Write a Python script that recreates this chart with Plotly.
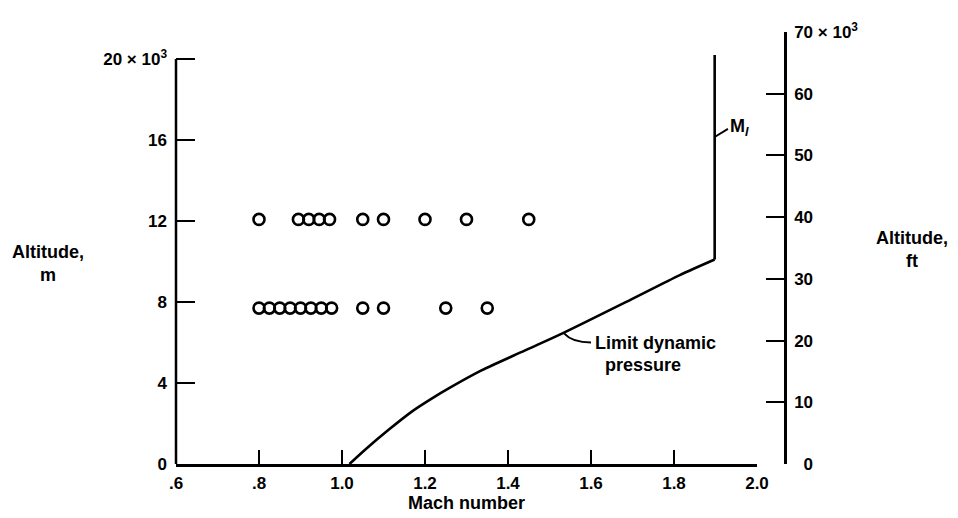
import plotly.graph_objects as go

# ---- data ----
upper_mach = [0.8, 0.895, 0.92, 0.945, 0.97, 1.05, 1.1, 1.2, 1.3, 1.45]
upper_alt_km = 12.08
lower_mach = [0.8, 0.825, 0.85, 0.875, 0.9, 0.925, 0.95, 0.975, 1.05, 1.1, 1.25, 1.35]
lower_alt_km = 7.7

# limit dynamic pressure boundary
limit_mach = [1.018, 1.057, 1.113, 1.169, 1.217, 1.257, 1.336, 1.44, 1.535, 1.695, 1.814, 1.898]
limit_alt_km = [0.0, 0.73, 1.70, 2.60, 3.24, 3.73, 4.62, 5.60, 6.49, 8.11, 9.33, 10.1]
# M_l boundary (vertical)
ml_mach = [1.898, 1.898]
ml_alt_km = [10.1, 20.2]

x_ticks = [0.6, 0.8, 1.0, 1.2, 1.4, 1.6, 1.8, 2.0]
x_ticktext = [".6", ".8", "1.0", "1.2", "1.4", "1.6", "1.8", "2.0"]
y_m_ticks = [0, 4, 8, 12, 16, 20]
y_m_ticktext = ["0", "4", "8", "12", "16", "20 \u00d7 10<sup>3</sup>"]
y_ft_ticks = [0, 10, 20, 30, 40, 50, 60, 70]
y_ft_ticktext = ["\u20070", "10", "20", "30", "40", "50", "60", "70 \u00d7 10<sup>3</sup>"]

FT_PER_KM = 1000 / 0.3048 / 1000  # thousands of ft per km
y_top_ft = 70
y_top_km = y_top_ft / FT_PER_KM

FONT = "Liberation Sans"
fs_tick = 17
fs_text = 18
black = "#000000"

fig = go.Figure()

marker_style = dict(symbol="circle-open", size=11, color=black, line=dict(width=2.6, color=black))
fig.add_trace(go.Scatter(
    x=upper_mach, y=[upper_alt_km] * len(upper_mach), mode="markers",
    marker=marker_style, showlegend=False, hoverinfo="skip"))
fig.add_trace(go.Scatter(
    x=lower_mach, y=[lower_alt_km] * len(lower_mach), mode="markers",
    marker=marker_style, showlegend=False, hoverinfo="skip"))
fig.add_trace(go.Scatter(
    x=limit_mach, y=limit_alt_km, mode="lines",
    line=dict(color=black, width=2.6, shape="spline", smoothing=0.8),
    showlegend=False, hoverinfo="skip"))
fig.add_trace(go.Scatter(
    x=ml_mach, y=ml_alt_km, mode="lines",
    line=dict(color=black, width=2.6),
    showlegend=False, hoverinfo="skip"))

# invisible trace to activate the right (ft) axis
fig.add_trace(go.Scatter(x=[1.0], y=[0], yaxis="y2", mode="markers",
                         marker=dict(opacity=0), showlegend=False, hoverinfo="skip"))

tickfont = dict(family=FONT, size=fs_tick, weight="bold", color=black)

# page body has an 8px margin, so the figure is 950x510 drawn at (8, 8)
fig.update_layout(
    width=950, height=510,
    margin=dict(l=168, r=173, t=17, b=54),
    paper_bgcolor="white", plot_bgcolor="white",
    font=dict(family=FONT, size=fs_tick, color=black),
    xaxis=dict(
        domain=[0, 581 / 609], range=[0.6, 2.0],
        tickmode="array", tickvals=x_ticks, ticktext=x_ticktext,
        ticks="inside", ticklen=14, tickwidth=2, tickcolor=black,
        showline=True, linewidth=2.5, linecolor=black,
        showgrid=False, zeroline=False,
        tickfont=tickfont, ticklabelstandoff=2,
    ),
    yaxis=dict(
        range=[0, y_top_km],
        tickmode="array", tickvals=y_m_ticks, ticktext=y_m_ticktext,
        ticks="inside", ticklen=19, tickwidth=2, tickcolor=black,
        showline=False, showgrid=False, zeroline=False,
        tickfont=tickfont, ticklabelstandoff=8,
    ),
    yaxis2=dict(
        range=[0, y_top_ft], overlaying="y", side="right", anchor="free", position=1.0,
        tickmode="array", tickvals=y_ft_ticks, ticktext=y_ft_ticktext,
        ticks="inside", ticklen=18, tickwidth=2, tickcolor=black,
        showline=True, linewidth=2.5, linecolor=black,
        showgrid=False, zeroline=False,
        tickfont=tickfont, ticklabelstandoff=4,
    ),
)

# left axis line: only from 0 to 20 x 10^3 m
fig.add_shape(type="line", xref="paper", yref="y", x0=0, x1=0, y0=0, y1=20,
              line=dict(color=black, width=2.5))

# leader for "Limit dynamic pressure"
fig.add_shape(type="path", xref="x", yref="y",
              path="M 1.535,6.45 Q 1.555,6.0 1.600,6.0",
              line=dict(color=black, width=2))
# leader for M_l
fig.add_shape(type="line", xref="x", yref="y", x0=1.898, y0=16.15, x1=1.93, y1=16.55,
              line=dict(color=black, width=2))

bold = dict(family=FONT, size=fs_text, color=black, weight="bold")
fig.add_annotation(x=1.604, y=6.0, xref="x", yref="y", text="Limit dynamic",
                   showarrow=False, xanchor="left", yanchor="middle", font=bold)
fig.add_annotation(x=1.628, y=4.9, xref="x", yref="y", text="pressure",
                   showarrow=False, xanchor="left", yanchor="middle", font=bold)
fig.add_annotation(x=1.930, y=16.6, xref="x", yref="y", text="M<sub><i>l</i></sub>",
                   showarrow=False, xanchor="left", yanchor="middle", font=bold)

fig.add_annotation(x=-0.21, y=(464 - 260) / 439, xref="paper", yref="paper",
                   text="Altitude,<br>m", showarrow=False, xanchor="center",
                   yanchor="middle", align="center", font=bold)
fig.add_annotation(x=1.2085, y=(464 - 246) / 439, xref="paper", yref="paper",
                   text="Altitude,<br>ft", showarrow=False, xanchor="center",
                   yanchor="middle", align="center", font=bold)
fig.add_annotation(x=(466 - 176) / 609, y=(464 - 504) / 439, xref="paper", yref="paper",
                   text="Mach number", showarrow=False, xanchor="center",
                   yanchor="middle", font=bold)

fig.write_html("out.html")
